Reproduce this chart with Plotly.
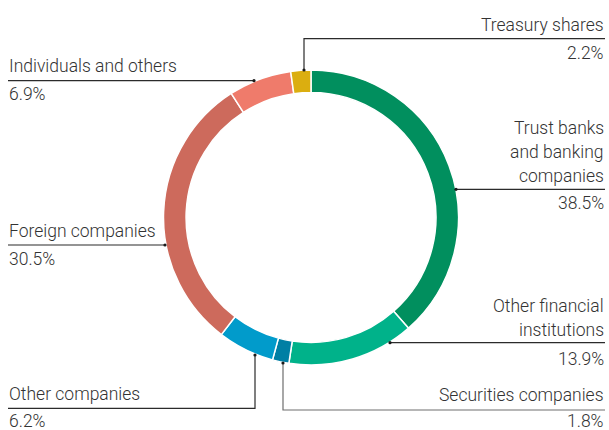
import plotly.graph_objects as go

# Shareholder composition (%)
categories = [
    "Trust banks and banking companies",
    "Other financial institutions",
    "Securities companies",
    "Other companies",
    "Foreign companies",
    "Individuals and others",
    "Treasury shares",
]
shares = [38.5, 13.9, 1.8, 6.2, 30.5, 6.9, 2.2]
colors = ["#018f5e", "#00b28a", "#007fa4", "#019bcb", "#cd6a5c", "#ef7b6b", "#dbae10"]

# Label text lines shown next to each slice
label_lines = {
    "Trust banks and banking companies": ["Trust banks", "and banking", "companies"],
    "Other financial institutions": ["Other financial", "institutions"],
    "Securities companies": ["Securities companies"],
    "Other companies": ["Other companies"],
    "Foreign companies": ["Foreign companies"],
    "Individuals and others": ["Individuals and others"],
    "Treasury shares": ["Treasury shares"],
}

W, H = 609, 430
CX, CY, R = 311, 217.5, 147.5

# Callout layout in pixels: side, label line centres, rule y, leader path
callouts = {
    "Treasury shares": dict(side="right", ys=[25], pct_y=53, path=[(304, 70), (304, 38.7), (605, 38.7)]),
    "Individuals and others": dict(side="left", ys=[66], pct_y=94, path=[(254, 80.7), (8, 80.7)]),
    "Trust banks and banking companies": dict(side="right", ys=[127.5, 151.5, 175.5], pct_y=202.5,
                                              path=[(456, 189.3), (605, 189.3)]),
    "Foreign companies": dict(side="left", ys=[231], pct_y=259, path=[(165, 245), (8, 245)]),
    "Other financial institutions": dict(side="right", ys=[306, 330], pct_y=358.5,
                                         path=[(390, 342.7), (605, 342.7)]),
    "Securities companies": dict(side="right", ys=[395], pct_y=420.5,
                                 path=[(283, 363), (283, 410), (605, 410)], color="#6e6e6e"),
    "Other companies": dict(side="left", ys=[394], pct_y=420.5, path=[(255, 355), (255, 408.3), (8, 408.3)]),
}

FONT = "Roboto"
TXT = "#333333"
FS = 17.5

fig = go.Figure()
fig.add_trace(go.Pie(
    labels=categories,
    values=shares,
    sort=False,
    direction="clockwise",
    rotation=0,
    hole=0.847,
    marker=dict(colors=colors, line=dict(color="white", width=1.5)),
    textinfo="none",
    hoverinfo="label+percent",
    showlegend=False,
    domain=dict(x=[(CX - R) / W, (CX + R) / W], y=[(H - CY - R) / H, (H - CY + R) / H]),
))

annotations = []
shapes = []
for cat, val in zip(categories, shares):
    c = callouts[cat]
    right = c["side"] == "right"
    x = 606 if right else 6.5
    anchor = "right" if right else "left"
    for line, y in zip(label_lines[cat], c["ys"]):
        annotations.append(dict(x=x, y=y, xref="x", yref="y", text=line, showarrow=False,
                                xanchor=anchor, yanchor="middle",
                                font=dict(family=FONT, size=FS, color=TXT, weight=300)))
    annotations.append(dict(x=x, y=c["pct_y"], xref="x", yref="y", text=f"{val:.1f}%", showarrow=False,
                            xanchor=anchor, yanchor="middle",
                            font=dict(family=FONT, size=FS, color=TXT, weight=300)))
    lc = c.get("color", "#2b2b2b")
    pts = c["path"]
    path = "M " + " L ".join(f"{px},{py}" for px, py in pts)
    shapes.append(dict(type="path", path=path, xref="x", yref="y",
                       line=dict(color=lc, width=1.2)))
    dx, dy = pts[0]
    shapes.append(dict(type="circle", xref="x", yref="y", x0=dx - 1.6, x1=dx + 1.6,
                       y0=dy - 1.6, y1=dy + 1.6, fillcolor="#1a1a1a", line=dict(width=0)))

fig.update_layout(
    width=W, height=H,
    margin=dict(l=0, r=0, t=0, b=0),
    paper_bgcolor="white", plot_bgcolor="rgba(0,0,0,0)",
    xaxis=dict(range=[0, W], visible=False, fixedrange=True),
    yaxis=dict(range=[H, 0], visible=False, fixedrange=True),
    annotations=annotations,
    shapes=shapes,
)

fig.write_html("out.html")
